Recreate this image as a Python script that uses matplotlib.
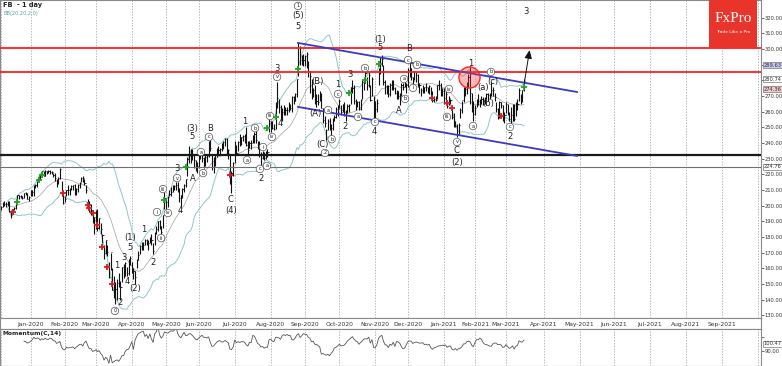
import numpy as np
import pandas as pd
import matplotlib
matplotlib.use("Agg")
import matplotlib.pyplot as plt
import matplotlib.transforms as mtransforms
from matplotlib.patches import Rectangle

# ---------------- data (daily bars, trading days from 2019-12-05) ----------------
close = [
    # Dec 2019
    199.4, 201.1, 201.3, 200.9, 202.3, 196.8, 194.1, 197.9, 198.5, 202.0, 206.6, 206.3, 206.2, 205.1, 207.8, 208.1, 204.4, 205.3,
    # Jan 2020
    209.8, 208.7, 212.6, 213.1, 215.2, 218.3, 218.1, 221.9, 219.1, 221.8, 221.8, 222.1, 221.4, 221.3, 219.8, 217.9, 214.9, 217.8, 223.2, 209.5, 201.9,
    # Feb 2020
    204.4, 209.8, 210.1, 210.9, 212.3, 213.1, 207.2, 210.8, 213.1, 214.2, 217.5, 217.5, 214.6, 210.2, 200.7, 196.8, 197.2, 189.8, 192.5,
    # Mar 2020
    196.4, 185.9, 191.8, 185.2, 181.1, 169.5, 178.2, 170.2, 154.5, 170.3, 146.0, 149.4, 146.9, 150.6, 149.7, 148.1, 161.0, 156.2, 163.3, 156.8, 166.0, 166.8,
    # Apr 2020
    159.6, 158.2, 154.2, 165.6, 168.8, 174.3, 175.2, 174.7, 178.2, 177.0, 176.0, 179.2, 178.2, 170.8, 182.3, 185.1, 190.1, 187.1, 182.9, 194.2, 204.7,
    # May 2020
    202.3, 205.3, 207.1, 208.5, 211.3, 212.4, 213.2, 210.1, 205.1, 206.8, 210.9, 213.2, 216.9, 230.0, 231.4, 234.9, 232.2, 229.1, 225.5, 225.1,
    # Jun 2020
    231.9, 232.7, 230.2, 226.3, 230.8, 231.4, 238.7, 236.7, 224.4, 228.6, 232.5, 235.5, 235.7, 235.9, 238.8, 240.3, 242.2, 234.0, 235.7, 216.1, 220.6, 227.1,
    # Jul 2020
    237.6, 233.4, 240.3, 240.9, 243.6, 244.5, 245.1, 239.0, 235.7, 239.9, 240.2, 242.0, 245.4, 241.8, 239.9, 232.6, 230.7, 233.5, 230.1, 234.5, 234.5, 253.7,
    # Aug 2020
    252.0, 249.8, 249.1, 265.3, 268.4, 263.0, 256.1, 259.9, 261.3, 261.2, 261.2, 262.3, 262.6, 269.0, 267.0, 271.4, 280.8, 303.9, 293.2, 293.7, 293.2,
    # Sep 2020
    295.4, 296.5, 286.1, 282.7, 271.2, 273.7, 268.1, 266.6, 266.2, 270.3, 262.2, 254.8, 252.5, 248.2, 254.2, 249.0, 249.5, 254.8, 256.8, 261.8, 261.9,
    # Oct 2020
    266.6, 259.9, 264.7, 258.7, 258.1, 263.8, 264.5, 276.0, 275.0, 266.6, 266.0, 265.9, 261.4, 267.6, 278.7, 278.1, 284.8, 277.1, 283.3, 267.7, 280.8, 263.1,
    # Nov 2020
    261.7, 265.3, 287.4, 294.7, 293.4, 278.8, 276.4, 275.0, 271.0, 277.0, 278.9, 275.0, 272.0, 272.9, 269.7, 268.4, 276.9, 275.6, 277.8, 277.0,
    # Dec 2020
    286.6, 287.5, 281.9, 279.7, 285.6, 283.4, 277.9, 277.1, 273.6, 274.2, 275.6, 275.7, 274.5, 276.4, 272.8, 267.1, 268.1, 267.4, 277.0, 276.8, 271.9, 273.2,
    # Jan 2021
    268.9, 271.0, 263.3, 268.7, 267.6, 256.8, 251.1, 251.1, 245.6, 251.4, 261.1, 267.5, 272.9, 274.5, 278.0, 282.0, 272.1, 265.0, 258.3,
    # Feb 2021
    262.0, 267.1, 266.7, 266.5, 268.1, 266.6, 267.3, 271.5, 270.5, 270.5, 274.0, 273.6, 269.4, 261.6, 260.3, 265.9, 264.3, 254.7, 257.6,
    # Mar 2021
    264.9, 259.0, 255.4, 257.6, 264.3, 255.3, 265.7, 264.9, 273.9, 268.4, 273.8, 279.3,
]
high = [
    200, 202, 203, 202, 203, 203, 197, 198, 199, 203, 207, 207, 207, 206, 208, 209, 208, 206,
    210, 210, 213, 214, 216, 219, 220, 222, 222, 223, 222, 223, 223, 222, 221, 221, 217, 218, 224, 216, 208,
    206, 210, 213, 211, 213, 213, 214, 211, 214, 215, 218, 219, 217, 213, 204, 203, 201, 197, 193,
    197, 198, 192, 189, 182, 175, 178, 175, 164, 170, 160, 155, 151, 153, 157, 152, 161, 163, 164, 161, 166, 168,
    164, 160, 158, 166, 171, 175, 177, 177, 179, 179, 178, 180, 182, 176, 183, 187, 190, 191, 187, 194, 209,
    204, 206, 210, 212, 213, 213, 215, 215, 211, 207, 211, 214, 217, 231, 238, 236, 236, 233, 229, 228,
    233, 234, 233, 231, 232, 233, 241, 244, 233, 231, 233, 237, 238, 237, 240, 241, 243, 243, 236, 232, 222, 228,
    241, 239, 241, 246, 244, 245, 246, 250, 241, 241, 242, 245, 247, 250, 241, 241, 234, 235, 234, 235, 236, 255,
    254, 254, 252, 266, 279, 268, 264, 262, 264, 263, 263, 266, 265, 270, 270, 272, 281, 304, 302, 296, 297,
    296, 298, 292, 286, 281, 275, 277, 271, 271, 273, 272, 262, 257, 249, 255, 256, 252, 256, 258, 263, 264,
    268, 264, 265, 266, 261, 265, 265, 276, 280, 277, 268, 267, 267, 268, 280, 281, 286, 282, 285, 277, 282, 270,
    267, 268, 288, 295, 296, 290, 280, 277, 277, 278, 280, 280, 276, 274, 273, 272, 278, 278, 280, 278,
    288, 292, 288, 282, 286, 285, 284, 278, 275, 277, 276, 278, 276, 277, 276, 273, 270, 270, 277, 280, 278, 275,
    275, 273, 267, 270, 268, 263, 259, 254, 252, 253, 262, 267, 276, 276, 279, 284, 289, 272, 267,
    264, 268, 271, 268, 270, 269, 269, 272, 272, 272, 279, 276, 272, 266, 262, 267, 266, 264, 260,
    266, 265, 260, 263, 265, 265, 266, 268, 275, 271, 274, 281,
]
low = [
    197, 199, 200, 199, 200, 196, 192, 195, 197, 198, 202, 204, 205, 204, 205, 207, 204, 203,
    206, 206, 206, 211, 212, 216, 217, 219, 219, 219, 220, 221, 220, 220, 218, 216, 212, 214, 217, 206, 201,
    202, 206, 207, 207, 210, 210, 207, 207, 209, 211, 215, 215, 213, 208, 198, 196, 194, 189, 182,
    185, 184, 185, 182, 176, 166, 169, 168, 154, 159, 146, 141, 137, 140, 148, 140, 151, 154, 155, 155, 156, 162,
    157, 153, 150, 160, 165, 169, 172, 172, 175, 175, 172, 176, 175, 169, 175, 182, 184, 185, 182, 186, 198,
    198, 199, 206, 206, 209, 210, 210, 209, 202, 199, 205, 209, 212, 219, 227, 227, 229, 224, 222, 221,
    224, 230, 228, 224, 225, 228, 231, 235, 223, 221, 225, 231, 233, 233, 235, 236, 238, 233, 230, 214, 208, 219,
    227, 233, 235, 238, 239, 241, 240, 238, 232, 237, 236, 240, 240, 240, 236, 231, 226, 230, 229, 230, 231, 247,
    247, 249, 248, 249, 262, 259, 255, 254, 258, 258, 258, 260, 261, 260, 265, 267, 269, 283, 290, 290, 289,
    289, 288, 282, 272, 268, 269, 265, 263, 264, 267, 262, 253, 250, 242, 248, 248, 245, 248, 254, 256, 257,
    262, 258, 260, 257, 254, 259, 260, 265, 272, 265, 261, 263, 261, 261, 268, 274, 278, 274, 276, 267, 270, 253,
    254, 260, 277, 284, 289, 277, 271, 271, 269, 270, 274, 274, 271, 268, 268, 264, 270, 274, 276, 272,
    276, 282, 280, 277, 280, 279, 276, 272, 270, 272, 272, 273, 272, 271, 269, 266, 266, 267, 268, 274, 270, 270,
    265, 267, 262, 264, 265, 255, 250, 250, 244, 245, 256, 259, 266, 270, 271, 276, 265, 260, 254,
    258, 263, 264, 263, 265, 264, 265, 268, 267, 268, 270, 270, 267, 260, 255, 256, 262, 254, 253,
    259, 258, 254, 252, 254, 254, 257, 261, 267, 265, 266, 273,
]
holidays = ["2019-12-25", "2020-01-01", "2020-01-20", "2020-02-17", "2020-04-10", "2020-05-25",
            "2020-07-03", "2020-09-07", "2020-11-26", "2020-12-25", "2021-01-01", "2021-01-18", "2021-02-15"]

# horizontal levels and channel (trading-day index relative to 2020-01-02, price)
red_levels = [300.6, 285.3]
black_level = 232.0
grey_level = 224.76
chan_x = [163.7, 334.5]
chan_upper = [303.8, 272.5]
chan_lower = [263.0, 231.7]
arrow_from = (302.0, 277.0)
arrow_to = (305.7, 301.0)
circle_pt = (268.4, 282.1)

green_x = [-8, 5, 7, 82, 95, 145, 150, 164, 195, 205, 213, 302]
green_y = [202.3, 216.4, 219.6, 203.6, 224.6, 249.5, 256.5, 287.2, 271.8, 280.2, 290.4, 275.7]
red_x = [-11, 20, 35, 36, 38, 41, 44, 47, 50, 122, 246, 255, 258, 288]
red_y = [196.0, 208.1, 200.4, 198.5, 195.3, 187.6, 173.6, 160.8, 150.0, 219.3, 268.7, 265.5, 262.3, 257.2]

wave_text = ["2", "1", "3", "4", "5", "(1)", "(2)", "1", "2", "3", "4", "A", "C", "(4)", "(3)", "5", "B",
             "1", "2", "4", "3", "(5)", "5", "(B)", "(A)", "(C)", "1", "2", "3", "(1)", "5", "4", "B", "A",
             "C", "(2)", "1", "(c)", "(a)", "(b)", "2", "3"]
wave_x = [54.8, 52.9, 57.2, 59.1, 60.9, 60.9, 64.0, 69.5, 75.0, 89.7, 91.5, 99.4, 122.1, 122.7, 98.8, 98.8, 109.9,
          131.3, 141.1, 152.7, 150.9, 163.7, 163.7, 175.3, 174.1, 178.8, 188.2, 192.5, 195.5, 213.9, 213.9, 210.2,
          231.7, 225.5, 260.4, 261.0, 269.6, 283.0, 277.0, 280.0, 293.4, 303.2]
wave_y = [138.5, 162.1, 166.6, 151.3, 173.6, 179.4, 147.4, 184.5, 164.0, 224.0, 196.6, 217.6, 203.6, 196.6, 249.5,
          243.8, 249.5, 253.4, 217.6, 252.1, 287.8, 321.0, 314.6, 278.9, 259.1, 239.3, 277.0, 250.8, 283.4, 305.7,
          300.6, 247.6, 300.0, 261.0, 234.9, 227.8, 291.0, 279.4, 275.2, 264.9, 243.8, 323.6]

sub_text = ["0", "i", "ii", "iii", "iv", "v", "b", "a", "c", "a", "b", "i", "c", "a", "iv", "iii", "v", "1",
            "a", "b", "2", "c", "a", "b", "c", "c", "b", "a", "i", "b", "iv", "iii", "v", "a", "b", "c"]
sub_x = [51.7, 77.4, 79.9, 81.1, 84.1, 89.7, 105.6, 104.3, 109.2, 132.5, 137.4, 142.3, 140.4, 144.7, 147.8,
         146.6, 150.9, 163.7, 182.1, 184.3, 180.2, 188.2, 200.4, 204.7, 210.8, 231.1, 236.5, 228.6, 234.1,
         229.2, 256.1, 254.9, 261.0, 270.8, 281.8, 293.4]
sub_y = [132.8, 195.9, 179.3, 210.6, 195.3, 217.6, 220.8, 234.2, 243.8, 229.1, 249.5, 237.4, 223.4, 225.3,
         243.8, 257.2, 282.1, 327.4, 261.0, 242.4, 233.6, 271.2, 256.6, 287.8, 253.4, 292.9, 289.8, 280.8,
         275.1, 268.1, 274.4, 256.6, 240.6, 250.8, 285.3, 250.2]

price_ticks = list(range(130, 330, 10))
hidden_tick_labels = [280, 290]  # covered by the boxed value labels in the reference
box_labels = ["289.63", "280.74", "274.36", "224.76"]
box_values = [289.63, 280.74, 274.36, 224.76]
box_faces = ["#c9c9f2", "#ffffff", "#f3c9c9", "#ffffff"]
mom_label = "100.47"
mom_label_value = 100.47

# ---------------- derived ----------------
n = min(len(close), len(high), len(low))
close, high, low = np.array(close[:n]), np.array(high[:n]), np.array(low[:n])
cbd = pd.offsets.CustomBusinessDay(holidays=holidays)
dates = pd.date_range("2019-12-05", periods=n, freq=cbd)
future = pd.bdate_range(dates[-1] + pd.Timedelta(days=1), "2021-12-31")
all_dates = dates.append(future)
origin = all_dates.get_loc(pd.Timestamp("2020-01-02"))
pos_all = np.arange(len(all_dates)) - origin
x = pos_all[:n]

s = pd.Series(close)
mid = s.rolling(20, min_periods=5).mean()
sd = s.rolling(20, min_periods=5).std(ddof=0)
upper = mid + 2 * sd
lower = mid - 2 * sd
mom = 100 * s / s.shift(14)

periods = all_dates.to_period("M")
month_pos = pd.Series(pos_all, index=periods).groupby(level=0).first()

# ---------------- figure ----------------
W, H = 782, 366
fig = plt.figure(figsize=(W / 100, H / 100), dpi=100)
ax = fig.add_axes([0, 1 - 318 / H, 761 / W, 318 / H])
axd = fig.add_axes([0, 1 - 329 / H, 761 / W, 11 / H])
axm = fig.add_axes([0, 0, 761 / W, 37 / H])

XL = (-30.5 / 1.634, (761 - 30.5) / 1.634)
for a in (ax, axd, axm):
    a.set_xlim(*XL)
    for sp in a.spines.values():
        sp.set_color("#8a8a8a")
        sp.set_linewidth(0.8)
ax.set_ylim(128.3, 331.2)
axm.set_ylim(69.8, 121.0)
axd.set_ylim(0, 1)

grid_kw = dict(color="#9c9c9c", lw=0.5, ls=(0, (2, 2)), zorder=0)
for p in month_pos.values:
    ax.axvline(p, **grid_kw)
    axm.axvline(p, **grid_kw)

# bands
ax.plot(x, upper, color="#8fc6ca", lw=0.7, zorder=1)
ax.plot(x, lower, color="#8fc6ca", lw=0.7, zorder=1)
ax.plot(x, mid, color="#a0a0a0", lw=0.5, zorder=1)

# bars
ax.vlines(x, low, high, color="#111111", lw=0.8, zorder=2)
ax.hlines(close, x, x + 0.7, color="#111111", lw=0.6, zorder=2)

# levels
for lv in red_levels:
    ax.axhline(lv, color="#ff1c1c", lw=1.3, zorder=3)
ax.axhline(black_level, color="#1a1a1a", lw=1.6, zorder=3)
ax.axhline(grey_level, color="#6f6f6f", lw=0.8, zorder=3)

# channel
ax.plot(chan_x, chan_upper, color="#3a3ac4", lw=1.3, zorder=3)
ax.plot(chan_x, chan_lower, color="#3a3ac4", lw=1.3, zorder=3)

# signals
ax.plot(green_x, green_y, "+", color="#1fa51f", ms=4, mew=1.3, zorder=4)
ax.plot(red_x, red_y, "+", color="#d42020", ms=4, mew=1.3, zorder=4)

# red circle and arrow
ax.scatter([circle_pt[0]], [circle_pt[1]], s=230, facecolor=(1, 0.25, 0.25, 0.35),
           edgecolor="#ff2020", lw=1.0, zorder=5)
ax.annotate("", xy=arrow_to, xytext=arrow_from,
            arrowprops=dict(arrowstyle="-|>,head_length=0.5,head_width=0.22", color="#111111", lw=0.7),
            zorder=6)

# wave labels
for t, xx, yy in zip(wave_text, wave_x, wave_y):
    ax.text(xx, yy, t, fontsize=6, color="#222222", ha="center", va="center", zorder=6)
for t, xx, yy in zip(sub_text, sub_x, sub_y):
    ax.text(xx, yy, t, fontsize=3.6, color="#222222", ha="center", va="center", zorder=6,
            bbox=dict(boxstyle="circle,pad=0.25", fc="white", ec="#555555", lw=0.5))

# price axis
ax.yaxis.tick_right()
ax.set_yticks(price_ticks)
ax.set_yticklabels(["" if v in hidden_tick_labels else f"{v:.2f}" for v in price_ticks])
ax.tick_params(axis="y", labelsize=3.7, length=2, pad=0.8, colors="#333333", width=0.5)
ax.set_xticks([])
trans = mtransforms.blended_transform_factory(ax.transAxes, ax.transData)
for lab, val, fc in zip(box_labels, box_values, box_faces):
    ax.text(1.003, val, lab, transform=trans, fontsize=3.7, color="#333333", ha="left", va="center",
            clip_on=False, zorder=10, bbox=dict(boxstyle="square,pad=0.12", fc=fc, ec="#777777", lw=0.5))

# date strip
axd.set_xticks([])
axd.set_yticks([])
for per, p in month_pos.items():
    if XL[0] + 5 < p < 440:
        axd.text(p, 0.45, per.strftime("%b-%Y"), fontsize=4.3, color="#333333",
                 ha="center", va="center")

# momentum
axm.plot(x, mom, color="#555555", lw=0.6, zorder=2)
axm.set_xticks([])
axm.yaxis.tick_right()
axm.set_yticks([90, 110])
axm.set_yticklabels(["90.00", ""])
axm.tick_params(axis="y", labelsize=3.7, length=2, pad=0.8, colors="#333333", width=0.5)
transm = mtransforms.blended_transform_factory(axm.transAxes, axm.transData)
axm.text(1.003, mom_label_value, mom_label, transform=transm, fontsize=3.7, color="#333333",
         ha="left", va="center", clip_on=False, zorder=10,
         bbox=dict(boxstyle="square,pad=0.12", fc="white", ec="#777777", lw=0.5))
axm.text(3 / 761, 0.87, "Momentum(C,14)", transform=axm.transAxes, fontsize=4.3,
         fontweight="bold", color="#222222", ha="left", va="center")

# titles
fig.text(3 / W, 1 - 5 / H, "FB  - 1 day", fontsize=4.8, fontweight="bold", color="#222222",
         ha="left", va="center")
fig.text(4 / W, 1 - 13 / H, "BB(20,20,2.0)", fontsize=3.6, color="#55a5a8", ha="left", va="center")

# logo
fig.patches.append(Rectangle((709 / W, 1 - 48 / H), 48 / W, 48 / H, transform=fig.transFigure,
                             facecolor="#e8342b", edgecolor="none", zorder=20))
fig.text(733 / W, 1 - 19 / H, "FxPro", fontsize=11, color="white", family="Liberation Serif",
         ha="center", va="center", zorder=21)
fig.text(733 / W, 1 - 32 / H, "Trade Like a Pro", fontsize=3.2, color="white",
         ha="center", va="center", zorder=21)

fig.savefig("out.png", dpi=100)
